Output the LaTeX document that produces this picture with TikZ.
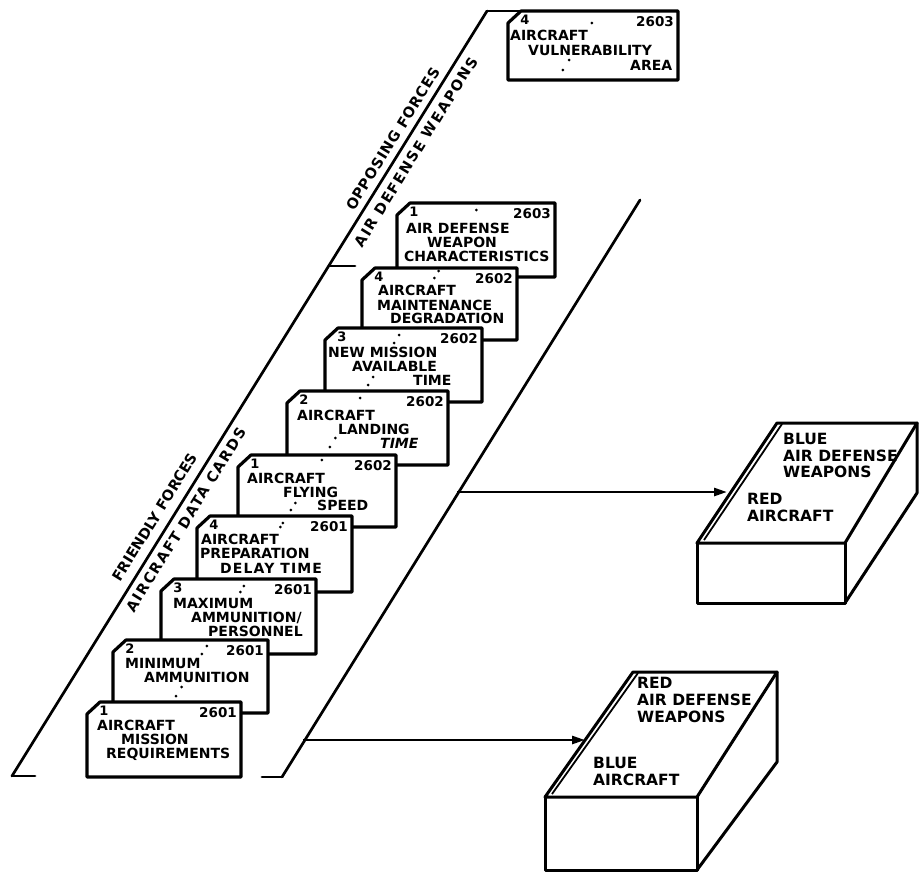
\documentclass[tikz,border=0pt]{standalone}
\usepackage{fontspec}
\newfontfamily\lett{DejaVu Sans}
\usetikzlibrary{arrows.meta}

\tikzset{
  rule/.style={line width=2.7pt, line cap=round},
  cardedge/.style={draw, fill=white, line width=3.2pt, line join=round},
  cardno/.style={inner sep=0pt, font=\lett\bfseries\fontsize{13}{13}\selectfont},
  cardcode/.style={inner sep=0pt, anchor=east, font=\lett\bfseries\fontsize{13.5}{13.5}\selectfont},
  cardline/.style={inner sep=0pt, anchor=base west, font=\lett\bfseries\fontsize{14}{14}\selectfont},
  boxline/.style={inner sep=0pt, anchor=base west, font=\lett\bfseries\fontsize{15.5}{15.5}\selectfont},
  decklabel/.style={inner sep=0pt, rotate=58.2, font=\lett\bfseries\fontsize{14.5}{15}\selectfont},
  boxedge/.style={line width=3pt, line join=round, line cap=round},
  feed/.style={line width=2.6pt, -{Triangle[length=13pt,width=8pt]}},
}

% card: name, left, top, right, bottom, index, code
\newcommand\deckcard[7]{%
  \draw[cardedge] ({#2+13},#3) -- (#4,#3) -- (#4,#5) -- (#2,#5) -- (#2,{#3+12}) -- cycle;
  \node[cardno] (#1-no) at ({#2+17},{#3+9}) {#6};
  \node[cardcode] (#1-code) at ({#4-4},{#3+11}) {#7};
}
\newcommand\cardtext[4]{\node[cardline] (#1) at (#2,#3) {#4};}
\newcommand\boxtext[4]{\node[boxline] (#1) at (#2,#3) {#4};}

\begin{document}
\begin{tikzpicture}[x=1pt,y=-1pt]
\useasboundingbox (0,0) rectangle (924,879);

% ---- the deck: two slanted rules with end ticks
\coordinate (lb) at (12,776);
\coordinate (lt) at (487,11);
\coordinate (lm) at (329,266);
\coordinate (rb) at (282,777);
\coordinate (rt) at (640,200);
\draw[rule] (lb) -- (lt);
\draw[rule] (lb) -- ++(23,0);
\draw[rule] (lm) -- ++(26,0);
\draw[rule] (lt) -- ++(33,0);
\draw[rule] (rb) -- (rt);
\draw[rule] (rb) -- ++(-20,0);

% ---- labels along the deck
\node[decklabel] (friendly) at (155,517) {FRIENDLY FORCES};
\node[decklabel, font=\lett\bfseries\fontsize{14.5}{15}\selectfont\addfontfeature{LetterSpace=11}] (datacards) at (186,520) {AIRCRAFT DATA CARDS};
\node[decklabel, font=\lett\bfseries\fontsize{14.5}{15}\selectfont\addfontfeature{LetterSpace=5}] (opposing) at (393,139) {OPPOSING FORCES};
\node[decklabel, font=\lett\bfseries\fontsize{14.5}{15}\selectfont\addfontfeature{LetterSpace=11}] (adweapons) at (416,152) {AIR DEFENSE WEAPONS};

% ---- cards, back to front
\deckcard{J}{508}{11}{678}{80}{4}{2603}
\cardtext{J1}{510}{40}{AIRCRAFT}
\cardtext{J2}{528}{55}{VULNERABILITY}
\cardtext{J3}{630}{70}{AREA}

\deckcard{I}{397}{203}{555}{277}{1}{2603}
\cardtext{I1}{406}{233}{AIR DEFENSE}
\cardtext{I2}{427}{247}{WEAPON}
\cardtext{I3}{404}{261}{CHARACTERISTICS}

\deckcard{H}{362}{268}{517}{340}{4}{2602}
\cardtext{H1}{378}{295}{AIRCRAFT}
\cardtext{H2}{377}{310}{MAINTENANCE}
\cardtext{H3}{390}{323}{DEGRADATION}

\deckcard{G}{325}{328}{482}{402}{3}{2602}
\cardtext{G1}{328}{357}{NEW MISSION}
\cardtext{G2}{352}{371}{AVAILABLE}
\cardtext{G3}{413}{385}{TIME}

\deckcard{F}{287}{391}{448}{465}{2}{2602}
\cardtext{F1}{297}{420}{AIRCRAFT}
\cardtext{F2}{338}{434}{LANDING}
\cardtext{F3}{380}{448}{\itshape TIME}

\deckcard{E}{238}{455}{396}{527}{1}{2602}
\cardtext{E1}{247}{483}{AIRCRAFT}
\cardtext{E2}{283}{497}{FLYING}
\cardtext{E3}{317}{510}{SPEED}

\deckcard{D}{197}{516}{352}{592}{4}{2601}
\cardtext{D1}{201}{544}{AIRCRAFT}
\cardtext{D2}{200}{558}{PREPARATION}
\cardtext{D3}{220}{573}{\addfontfeature{LetterSpace=8}DELAY TIME}

\deckcard{C}{161}{579}{316}{654}{3}{2601}
\cardtext{C1}{173}{608}{MAXIMUM}
\cardtext{C2}{191}{622}{AMMUNITION/}
\cardtext{C3}{208}{636}{PERSONNEL}

\deckcard{B}{113}{640}{268}{713}{2}{2601}
\cardtext{B1}{125}{668}{MINIMUM}
\cardtext{B2}{144}{682}{AMMUNITION}

\deckcard{A}{87}{702}{241}{777}{1}{2601}
\cardtext{A1}{97}{730}{AIRCRAFT}
\cardtext{A2}{121}{744}{MISSION}
\cardtext{A3}{106}{758}{REQUIREMENTS}

% ---- dotted guide running through the stack
\foreach \yy in {23,60,70,210,271,278,335,343,377,385,398,438,447,460,503,510,523,527,586,592,646,654,687,696}
  \fill ({176+(696-\yy)*0.618},\yy) circle (1.5pt);

% ---- upper result block
\coordinate (uBL) at (777,423);
\coordinate (uBR) at (917,423);
\coordinate (uFR) at (845,543);
\coordinate (uFL) at (697,543);
\coordinate (uFBL) at (697,603);
\coordinate (uFBR) at (845,603);
\coordinate (uRB) at (917,493);
\draw[boxedge] (uFL) -- (uBL) -- (uBR) -- (uFR) -- cycle;
\draw[boxedge] (uFL) -- (uFBL) -- (uFBR) -- (uFR);
\draw[boxedge] (uBR) -- (uRB) -- (uFBR);
\draw[line width=1.8pt] (704,540) -- (782,424);
\boxtext{u1}{783}{444}{BLUE}
\boxtext{u2}{783}{461}{AIR DEFENSE}
\boxtext{u3}{783}{477}{WEAPONS}
\boxtext{u4}{747}{504}{RED}
\boxtext{u5}{747}{521}{AIRCRAFT}

% ---- lower result block
\coordinate (lBL) at (633,672);
\coordinate (lBR) at (777,672);
\coordinate (lFR) at (697,797);
\coordinate (lFL) at (545,797);
\coordinate (lFBL) at (545,870);
\coordinate (lFBR) at (697,870);
\coordinate (lRB) at (777,762);
\draw[boxedge] (lFL) -- (lBL) -- (lBR) -- (lFR) -- cycle;
\draw[boxedge] (lFL) -- (lFBL) -- (lFBR) -- (lFR);
\draw[boxedge] (lBR) -- (lRB) -- (lFBR);
\draw[line width=1.8pt] (552,794) -- (638,673);
\boxtext{l1}{637}{688}{RED}
\boxtext{l2}{637}{705}{AIR DEFENSE}
\boxtext{l3}{637}{722}{WEAPONS}
\boxtext{l4}{593}{768}{BLUE}
\boxtext{l5}{593}{785}{AIRCRAFT}

% ---- connectors from the deck to the blocks
\coordinate (ua) at (457,492);
\coordinate (ub) at (727,492);
\coordinate (la) at (303,740);
\coordinate (lbx) at (585,740);
\draw[feed] (ua) -- (ub);
\draw[feed] (la) -- (lbx);
\end{tikzpicture}
\end{document}
